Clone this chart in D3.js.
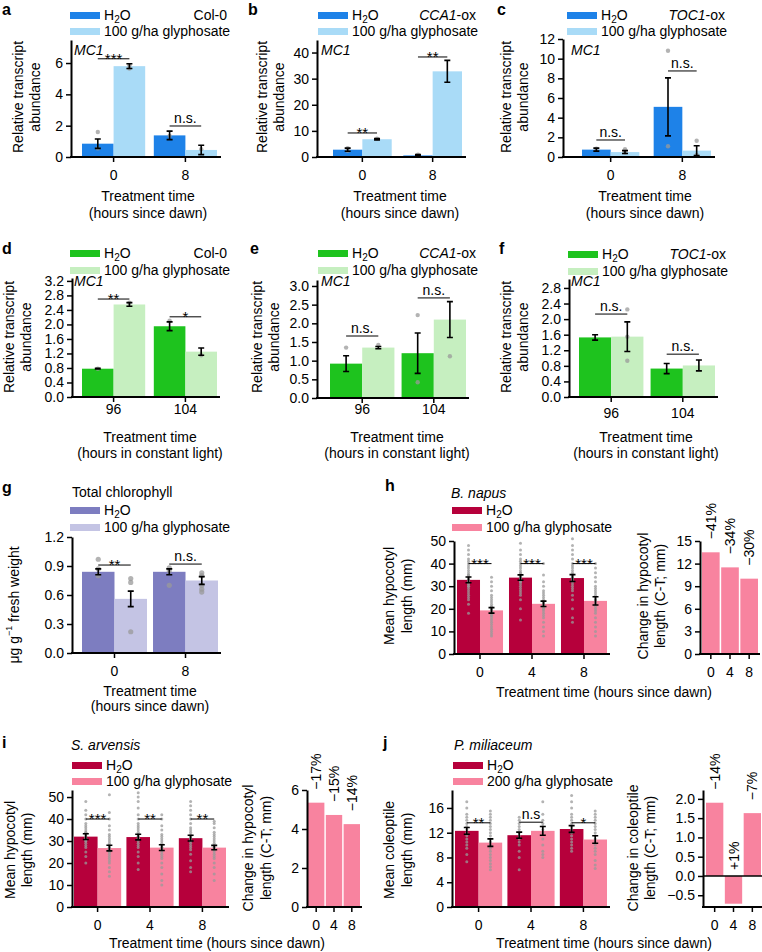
<!DOCTYPE html>
<html><head><meta charset="utf-8">
<script src="https://cdn.jsdelivr.net/npm/d3@7"></script>
<style>body{margin:0;background:#fff}svg{display:block}</style>
</head><body><svg id="c" width="762" height="952"></svg>
<script>
// ---------------- DATA ----------------
const timeDawn = ["0", "8"];
const timeLight = ["96", "104"];
const timeSeed = ["0", "4", "8"];

// a  Col-0 MC1
const aWater = [0.85, 1.38], aWaterErr = [0.3, 0.27];
const aGly = [5.8, 0.45], aGlyErr = [0.15, 0.3];
const aWaterDots = [[1.6, 0.55], [1.35]], aGlyDots = [[5.65, 5.85], [0.5]];
const aSig = ["***", "n.s."], aSigAt = [6.27, 1.98];
// b  CCA1-ox
const bWater = [2.8, 0.6], bWaterErr = [0.6, 0.3];
const bGly = [6.8, 32.8], bGlyErr = [0.3, 4.2];
const bWaterDots = [[3.4, 2.4], [0.9]], bGlyDots = [[7.0], []];
const bSig = ["**", "**"], bSigAt = [9.2, 38.3];
// c  TOC1-ox
const cWater = [0.75, 5.1], cWaterErr = [0.15, 2.95];
const cGly = [0.5, 0.65], cGlyErr = [0.15, 0.5];
const cWaterDots = [[0.85], [10.8, 1.1]], cGlyDots = [[0.8, 0.45], [1.65, 0.2]];
const cSig = ["n.s.", "n.s."], cSigAt = [1.73, 8.75];
// d  Col-0 constant light
const dWater = [0.78, 1.95], dWaterErr = [0.01, 0.12];
const dGly = [2.55, 1.25], dGlyErr = [0.05, 0.1];
const dWaterDots = [[0.78], [2.1]], dGlyDots = [[2.6], [1.15]];
const dSig = ["**", "*"], dSigAt = [2.70, 2.21];
// e  CCA1-ox constant light
const eWater = [0.92, 1.2], eWaterErr = [0.21, 0.54];
const eGly = [1.35, 2.1], eGlyErr = [0.03, 0.48];
const eWaterDots = [[1.35], [2.22, 0.42]], eGlyDots = [[1.42], [1.12]];
const eSig = ["n.s.", "n.s."], eSigAt = [1.66, 2.68];
// f  TOC1-ox constant light
const fWater = [1.53, 0.73], fWaterErr = [0.07, 0.13];
const fGly = [1.55, 0.81], fGlyErr = [0.38, 0.14];
const fWaterDots = [[], []], fGlyDots = [[2.25, 1.55, 0.93], []];
const fSig = ["n.s.", "n.s."], fSigAt = [2.13, 1.1];
// g  Total chlorophyll
const gWater = [0.84, 0.84], gWaterErr = [0.03, 0.03];
const gGly = [0.56, 0.75], gGlyErr = [0.08, 0.04];
const gWaterDots = [[0.97, 0.87, 0.8], [0.88, 0.85, 0.7]];
const gGlyDots = [[0.77, 0.73, 0.22], [0.83, 0.8, 0.7, 0.66, 0.63]];
const gSig = ["**", "n.s."], gSigAt = [0.91, 0.92];
// h  B. napus
const hWater = [32.8, 33.8, 33.6], hWaterErr = [1.3, 1.2, 1.5];
const hGly = [19.3, 22.2, 23.5], hGlyErr = [1.2, 1.2, 1.8];
const hWaterDots = [
  [18,22,24,25,26,27,28,29,30,30,31,31,32,32,33,33,34,34,35,35,36,37,38,39,40,41,42,44,46,48],
  [15,20,24,26,27,28,29,30,31,32,32,33,33,34,34,35,35,36,36,37,38,39,40,41,42,44,46,49],
  [14,16,20,24,26,28,29,30,31,32,33,33,34,34,35,35,36,37,38,39,40,42,44,46,48,51]];
const hGlyDots = [
  [8,9,10,11,12,13,14,15,16,17,17,18,18,19,19,20,20,21,21,22,23,24,25,26,28,30,32,34],
  [8,10,12,14,16,17,18,19,20,20,21,21,22,22,23,23,24,25,26,27,28,30,32,35,40],
  [8,10,12,14,16,18,19,20,21,22,23,24,24,25,26,27,28,29,30,32,34,36,38,40]];
const hSig = ["***", "***", "***"], hSigAt = [40, 40, 40];
const hChange = [13.5, 11.5, 10.0], hPct = ["\u221241%", "\u221234%", "\u221230%"];
// i  S. arvensis
const iWater = [32.0, 31.8, 31.3], iWaterErr = [1.3, 1.3, 1.3];
const iGly = [26.8, 27.0, 27.0], iGlyErr = [1.3, 1.3, 1.0];
const iWaterDots = [
  [20,23,25,27,28,29,30,30,31,31,32,32,33,33,34,34,35,36,37,38,40,42,44,48],
  [17,20,23,25,27,28,29,30,31,31,32,32,33,33,34,35,36,37,38,40,42,45,48,50,52],
  [16,18,21,24,26,27,28,29,30,30,31,31,32,32,33,34,35,36,38,40,42,44,46,48]];
const iGlyDots = [
  [14,16,18,20,21,22,23,24,25,25,26,26,27,27,28,28,29,30,31,32,33,35,37,40,43,51],
  [10,12,15,18,20,22,23,24,25,26,26,27,27,28,28,29,30,31,32,33,35,37,40,42],
  [12,15,18,20,22,23,24,25,26,26,27,27,28,28,29,30,31,32,33,34,36,38,39]];
const iSig = ["***", "**", "**"], iSigAt = [40, 40, 40];
const iChange = [5.35, 4.72, 4.25], iPct = ["\u221217%", "\u221215%", "\u221214%"];
// j  P. miliaceum
const jWater = [12.3, 11.6, 12.6], jWaterErr = [0.55, 0.5, 0.55];
const jGly = [10.4, 12.3, 10.9], jGlyErr = [0.6, 0.7, 0.6];
const jWaterDots = [
  [7.3,8.5,9.5,10,10.5,11,11.5,12,12.5,13,13.5,14,14.5,15,16,17],
  [6,8,9,10,10.5,11,11.5,12,12.5,13,13.5,14,14.5],
  [9,9.5,10,10.5,11,11.5,12,12.5,13,13.5,14,14.5,15,16,17,18]];
const jGlyDots = [
  [6,6.5,7,7.5,8,8.5,9,9.5,10,10.5,11,11.5,12,12.5,13,13.5,14,14.5,15,15.5],
  [8,8.5,9,10,11,12,12.5,13,13.5,14,15,17],
  [6.2,6.8,7.5,8.5,9,9.5,10,10.5,11,11.5,12,12.5,13,13.5,14,14.5,15,15.5]];
const jSig = ["**", "n.s", "*"], jSigAt = [13.6, 13.7, 13.6];
const jChange = [1.9, -0.72, 1.63], jPct = ["\u221214%", "+1%", "\u22127%"];

// ---------------- STYLE ----------------
const FONT = '"Liberation Sans", Arial, Helvetica, sans-serif';
const C = {blue:"#1e82e8", lblue:"#a9dbf7", green:"#1ec31e", lgreen:"#c6efc0",
  purple:"#7d7dc0", lpurple:"#c4c4e4", red:"#b6003b", pink:"#f8839f"};
const svg = d3.select("#c");
svg.style("font-family", FONT);

function styleAxis(g) {
  g.selectAll("text").attr("font-size", 14).attr("font-family", FONT).attr("fill", "#000");
  g.select(".domain").attr("stroke", "#000").attr("stroke-width", 2);
  g.selectAll(".tick line").attr("stroke", "#000").attr("stroke-width", 1.5);
}

function chart(cfg) {
  const g = svg.append("g");
  const y = d3.scaleLinear().domain(cfg.dom).range(cfg.yr);
  const x = d3.scaleBand().domain(cfg.groups).range(cfg.xr).paddingInner(cfg.pad).paddingOuter(0);
  const n = cfg.series.length;
  const xs = d3.scaleBand().domain(d3.range(n)).range([0, x.bandwidth()]);
  const cx = (gi, si) => x(cfg.groups[gi]) + xs(si) + xs.bandwidth() / 2;
  cfg.series.forEach((s, si) => {
    const rows = cfg.groups.map((k, i) => ({i, v: s.values[i]}));
    g.append("g").selectAll("rect").data(rows).join("rect")
      .attr("x", d => x(cfg.groups[d.i]) + xs(si)).attr("width", xs.bandwidth())
      .attr("y", d => y(Math.max(0, d.v))).attr("height", d => Math.abs(y(d.v) - y(0)))
      .attr("fill", s.color);
  });
  cfg.series.forEach((s, si) => {
    if (!s.dots) return;
    const pts = [];
    s.dots.forEach((arr, i) => arr.forEach(v => pts.push({i, v})));
    g.append("g").selectAll("circle").data(pts).join("circle")
      .attr("cx", d => cx(d.i, si)).attr("cy", d => y(d.v))
      .attr("r", cfg.dotR || 2.2).attr("fill", "#9a9a9a").attr("fill-opacity", 0.75);
  });
  cfg.series.forEach((s, si) => {
    if (!s.err) return;
    const rows = cfg.groups.map((k, i) => ({i, v: s.values[i], e: s.err[i]}));
    const eg = g.append("g").attr("stroke", "#000").attr("stroke-width", 1.6).attr("fill", "none");
    eg.selectAll("path").data(rows).join("path")
      .attr("d", d => {
        const c = cx(d.i, si), t = y(d.v + d.e), b = y(d.v - d.e), w = 3;
        return `M${c - w},${t}H${c + w}M${c},${t}V${b}M${c - w},${b}H${c + w}`;
      });
  });
  if (cfg.sig) {
    cfg.sig.forEach((txt, gi) => {
      const x1 = cx(gi, 0), x2 = cx(gi, 1), ly = y(cfg.sigAt[gi]);
      g.append("line").attr("x1", x1).attr("x2", x2).attr("y1", ly).attr("y2", ly)
        .attr("stroke", "#000").attr("stroke-width", 1);
      const star = txt.indexOf("*") >= 0;
      g.append("text").attr("x", (x1 + x2) / 2).attr("y", star ? ly + 5 : ly - 3)
        .attr("text-anchor", "middle").attr("font-size", star ? 15 : 14).text(txt);
    });
  }
  if (cfg.pct) {
    cfg.pct.forEach((txt, gi) => {
      const v = cfg.series[0].values[gi];
      const top = v >= 0 ? y(v) - 13 : y(0) - 6;
      g.append("text").attr("transform", `translate(${cx(gi, 0) + 5},${top}) rotate(-90)`)
        .attr("font-size", 14).text(txt);
    });
  }
  const ya = g.append("g").attr("transform", `translate(${cfg.x0},0)`)
    .call(d3.axisLeft(y).tickValues(cfg.ticks).tickFormat(d3.format(cfg.fmt || "d"))
      .tickSize(5).tickPadding(3).tickSizeOuter(0));
  styleAxis(ya);
  const xa = g.append("g").attr("transform", `translate(0,${y(cfg.dom[0])})`)
    .call(d3.axisBottom(x).tickSize(5).tickPadding(cfg.tp).tickSizeOuter(0));
  styleAxis(xa);
  xa.select(".domain").attr("d", `M${cfg.x0 - 1},0H${cfg.xEnd}`);
  if (cfg.zero) {
    g.append("line").attr("x1", cfg.x0).attr("x2", cfg.xEnd).attr("y1", y(0)).attr("y2", y(0))
      .attr("stroke", "#000").attr("stroke-width", 1.5);
  }
  return {x, y};
}

function h2o(sel) {
  sel.append("tspan").text("H");
  sel.append("tspan").text("2").attr("font-size", 10).attr("dy", 3);
  sel.append("tspan").text("O").attr("dy", -3);
}

function legend(x, y1, y2, colors, name2, tx) {
  const g = svg.append("g");
  g.append("rect").attr("x", x).attr("y", y1).attr("width", 30).attr("height", 7).attr("fill", colors[0]);
  g.append("rect").attr("x", x).attr("y", y2).attr("width", 30).attr("height", 7).attr("fill", colors[1]);
  g.append("text").attr("x", tx).attr("y", y1 + 8).attr("font-size", 14).call(h2o);
  g.append("text").attr("x", tx).attr("y", y2 + 8).attr("font-size", 14).text(name2);
}

function rightLabel(x, y, italicPart, rest) {
  const t = svg.append("text").attr("x", x).attr("y", y).attr("font-size", 14).attr("text-anchor", "end");
  if (italicPart) t.append("tspan").attr("font-style", "italic").text(italicPart);
  t.append("tspan").text(rest);
}

function txt(x, y, s, opts = {}) {
  const t = svg.append("text").attr("x", x).attr("y", y).attr("font-size", opts.size || 14)
    .attr("text-anchor", opts.anchor || "start").text(s);
  if (opts.italic) t.attr("font-style", "italic");
  if (opts.bold) t.attr("font-weight", "bold");
  return t;
}

function ylab(xs, yc, lines) {
  lines.forEach((l, i) => {
    svg.append("text").attr("transform", `translate(${xs[i]},${yc}) rotate(-90)`)
      .attr("text-anchor", "middle").attr("dominant-baseline", "central")
      .attr("font-size", 14).text(l);
  });
}

// ---------------- PANELS ----------------
const glyName = "100 g/ha glyphosate";

chart({groups: timeDawn, x0: 71, xr: [82, 217], pad: 0.12, yr: [157, 40], dom: [0, 7.47],
  ticks: [0, 2, 4, 6], tp: 8, xEnd: 221,
  series: [{values: aWater, err: aWaterErr, dots: aWaterDots, color: C.blue},
           {values: aGly, err: aGlyErr, dots: aGlyDots, color: C.lblue}],
  sig: aSig, sigAt: aSigAt});
chart({groups: timeDawn, x0: 317, xr: [333, 462], pad: 0.165, yr: [157, 40], dom: [0, 44.8],
  ticks: [0, 10, 20, 30, 40], tp: 8, xEnd: 466,
  series: [{values: bWater, err: bWaterErr, dots: bWaterDots, color: C.blue},
           {values: bGly, err: bGlyErr, dots: bGlyDots, color: C.lblue}],
  sig: bSig, sigAt: bSigAt});
chart({groups: timeDawn, x0: 563, xr: [582, 711], pad: 0.2, yr: [157, 39], dom: [0, 12],
  ticks: [0, 2, 4, 6, 8, 10, 12], tp: 8, xEnd: 715,
  series: [{values: cWater, err: cWaterErr, dots: cWaterDots, color: C.blue},
           {values: cGly, err: cGlyErr, dots: cGlyDots, color: C.lblue}],
  sig: cSig, sigAt: cSigAt});

chart({groups: timeLight, x0: 72, xr: [82, 217], pad: 0.12, yr: [397, 278], dom: [0, 3.28],
  ticks: [0, 0.4, 0.8, 1.2, 1.6, 2.0, 2.4, 2.8, 3.2], fmt: ".1f", tp: 2, xEnd: 220,
  series: [{values: dWater, err: dWaterErr, dots: dWaterDots, color: C.green},
           {values: dGly, err: dGlyErr, dots: dGlyDots, color: C.lgreen}],
  sig: dSig, sigAt: dSigAt});
chart({groups: timeLight, x0: 317, xr: [330, 466], pad: 0.1, yr: [398, 280], dom: [0, 3.16],
  ticks: [0, 0.5, 1.0, 1.5, 2.0, 2.5, 3.0], fmt: ".1f", tp: 1, xEnd: 469,
  series: [{values: eWater, err: eWaterErr, dots: eWaterDots, color: C.green},
           {values: eGly, err: eGlyErr, dots: eGlyDots, color: C.lgreen}],
  sig: eSig, sigAt: eSigAt});
chart({groups: timeLight, x0: 569, xr: [579, 715], pad: 0.1, yr: [397, 279], dom: [0, 3.03],
  ticks: [0, 0.4, 0.8, 1.2, 1.6, 2.0, 2.4, 2.8], fmt: ".1f", tp: 6, xEnd: 718,
  series: [{values: fWater, err: fWaterErr, dots: fWaterDots, color: C.green},
           {values: fGly, err: fGlyErr, dots: fGlyDots, color: C.lgreen}],
  sig: fSig, sigAt: fSigAt});

chart({groups: timeDawn, x0: 72, xr: [82, 218], pad: 0.085, yr: [653, 537], dom: [0, 1.2],
  ticks: [0, 0.3, 0.6, 0.9, 1.2], fmt: ".1f", tp: 8, xEnd: 221,
  series: [{values: gWater, err: gWaterErr, dots: gWaterDots, color: C.purple},
           {values: gGly, err: gGlyErr, dots: gGlyDots, color: C.lpurple}],
  sig: gSig, sigAt: gSigAt, dotR: 2.6});

chart({groups: timeSeed, x0: 454, xr: [457, 607], pad: 0.115, yr: [654, 541], dom: [0, 50],
  ticks: [0, 10, 20, 30, 40, 50], tp: 8, xEnd: 610, dotR: 1.5,
  series: [{values: hWater, err: hWaterErr, dots: hWaterDots, color: C.red},
           {values: hGly, err: hGlyErr, dots: hGlyDots, color: C.pink}],
  sig: hSig, sigAt: hSigAt});
chart({groups: timeSeed, x0: 700, xr: [702, 758], pad: 0.08, yr: [654, 541], dom: [0, 15],
  ticks: [0, 3, 6, 9, 12, 15], tp: 8, xEnd: 760,
  series: [{values: hChange, color: C.pink}], pct: hPct});

chart({groups: timeSeed, x0: 72, xr: [74, 226], pad: 0.1, yr: [907, 790], dom: [0, 53.2],
  ticks: [0, 10, 20, 30, 40, 50], tp: 8, xEnd: 229, dotR: 1.5,
  series: [{values: iWater, err: iWaterErr, dots: iWaterDots, color: C.red},
           {values: iGly, err: iGlyErr, dots: iGlyDots, color: C.pink}],
  sig: iSig, sigAt: iSigAt});
chart({groups: timeSeed, x0: 307, xr: [308, 360], pad: 0.08, yr: [907, 790], dom: [0, 6],
  ticks: [0, 2, 4, 6], tp: 8, xEnd: 362,
  series: [{values: iChange, color: C.pink}], pct: iPct});

chart({groups: timeSeed, x0: 452, xr: [455, 607], pad: 0.1, yr: [907, 790], dom: [0, 18.9],
  ticks: [0, 4, 8, 12, 16], tp: 8, xEnd: 610, dotR: 1.5,
  series: [{values: jWater, err: jWaterErr, dots: jWaterDots, color: C.red},
           {values: jGly, err: jGlyErr, dots: jGlyDots, color: C.pink}],
  sig: jSig, sigAt: jSigAt});
chart({groups: timeSeed, x0: 703, xr: [706, 761], pad: 0.08, yr: [907, 790], dom: [-0.805, 2.23],
  ticks: [-0.5, 0, 0.5, 1.0, 1.5, 2.0], fmt: ".1f", tp: 8, xEnd: 762, zero: true,
  series: [{values: jChange, color: C.pink}], pct: jPct});

// ---------------- TEXT ----------------
[["a", 2, 15], ["b", 248, 15], ["c", 497, 15], ["d", 2, 254], ["e", 250, 254], ["f", 499, 254],
 ["g", 2, 493], ["h", 385, 491], ["i", 2, 748], ["j", 383, 748]]
  .forEach(([l, x, y]) => txt(x, y, l, {bold: true, size: 16}));

legend(70, 12, 28, [C.blue, C.lblue], glyName, 104);
legend(318, 12, 28, [C.blue, C.lblue], glyName, 352);
legend(567, 12, 28, [C.blue, C.lblue], glyName, 601);
rightLabel(227, 20, null, "Col-0");
rightLabel(476, 20, "CCA1", "-ox");
rightLabel(725, 20, "TOC1", "-ox");
legend(70, 250, 267, [C.green, C.lgreen], glyName, 104);
legend(318, 250, 267, [C.green, C.lgreen], glyName, 352);
legend(568, 251, 268, [C.green, C.lgreen], glyName, 602);
rightLabel(227, 258, null, "Col-0");
rightLabel(476, 258, "CCA1", "-ox");
rightLabel(726, 259, "TOC1", "-ox");
txt(72, 497, "Total chlorophyll");
legend(70, 507, 524, [C.purple, C.lpurple], glyName, 104);
txt(451, 498, "B. napus", {italic: true});
legend(452, 507, 524, [C.red, C.pink], glyName, 486);
txt(71, 750, "S. arvensis", {italic: true});
legend(72, 762, 778, [C.red, C.pink], glyName, 106);
txt(454, 750, "P. miliaceum", {italic: true});
legend(453, 762, 778, [C.red, C.pink], "200 g/ha glyphosate", 487);

[[74, 55], [321, 55], [571, 55], [74, 286], [321, 286], [571, 286]]
  .forEach(([x, y]) => txt(x, y, "MC1", {italic: true}));

ylab([18, 35], 97, ["Relative transcript", "abundance"]);
ylab([262, 279], 97, ["Relative transcript", "abundance"]);
ylab([506, 523], 97, ["Relative transcript", "abundance"]);
ylab([9, 26], 337, ["Relative transcript", "abundance"]);
ylab([257, 274], 337, ["Relative transcript", "abundance"]);
ylab([506, 523], 337, ["Relative transcript", "abundance"]);
{
  const t = svg.append("text").attr("transform", "translate(14,605) rotate(-90)")
    .attr("text-anchor", "middle").attr("dominant-baseline", "central").attr("font-size", 14);
  t.append("tspan").text("\u03bcg g");
  t.append("tspan").text("\u22121").attr("font-size", 9).attr("dy", -5);
  t.append("tspan").text(" fresh weight").attr("dy", 5);
}
ylab([389, 407], 596, ["Mean hypocotyl", "length (mm)"]);
ylab([643, 660], 596, ["Change in hypocotyl", "length (C-T; mm)"]);
ylab([10, 27], 850, ["Mean hypocotyl", "length (mm)"]);
ylab([248, 266], 848, ["Change in hypocotyl", "length (C-T; mm)"]);
ylab([389, 407], 850, ["Mean coleoptile", "length (mm)"]);
ylab([633, 650], 848, ["Change in coleoptile", "length (C-T; mm)"]);

[[148, 201, "Treatment time"], [148, 218, "(hours since dawn)"],
 [400, 201, "Treatment time"], [400, 218, "(hours since dawn)"],
 [645, 201, "Treatment time"], [645, 218, "(hours since dawn)"],
 [150, 442, "Treatment time"], [150, 458, "(hours in constant light)"],
 [397, 442, "Treatment time"], [397, 458, "(hours in constant light)"],
 [646, 442, "Treatment time"], [646, 458, "(hours in constant light)"],
 [150, 696, "Treatment time"], [150, 711, "(hours since dawn)"],
 [604, 697, "Treatment time (hours since dawn)"],
 [217, 948, "Treatment time (hours since dawn)"],
 [604, 948, "Treatment time (hours since dawn)"]]
  .forEach(([x, y, s]) => txt(x, y, s, {anchor: "middle"}));
</script></body></html>
